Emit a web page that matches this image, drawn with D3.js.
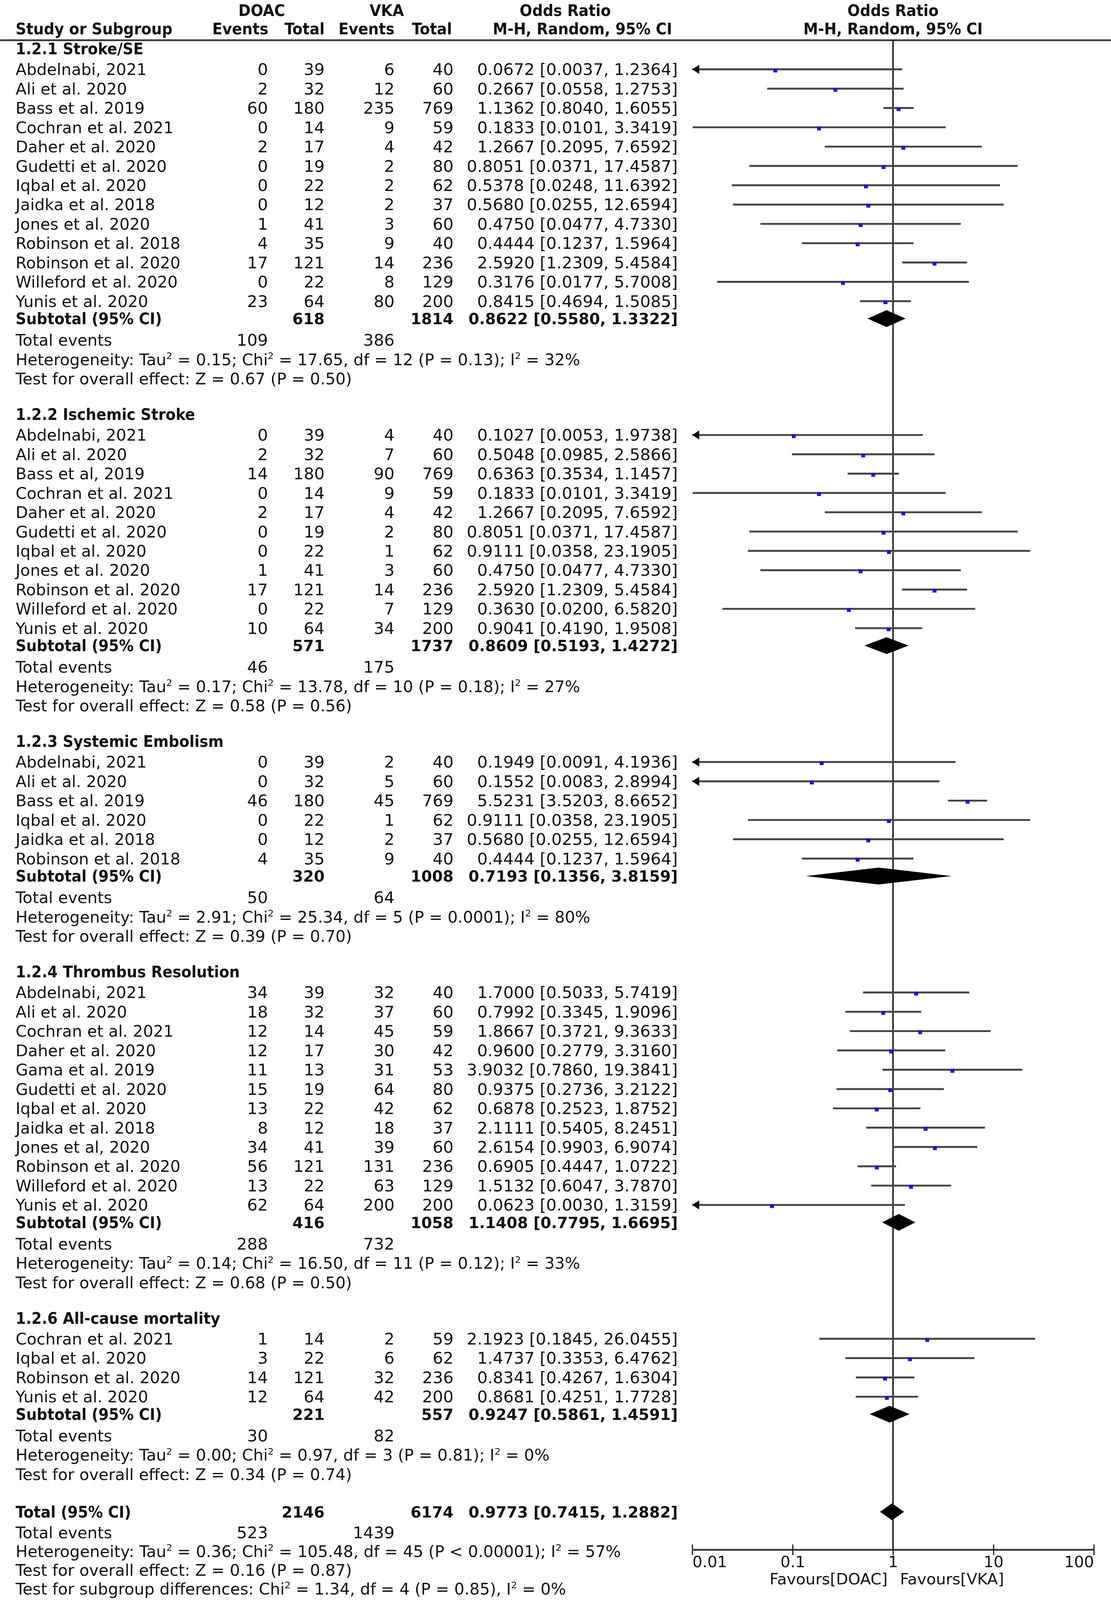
<!DOCTYPE html>
<html><head><meta charset="utf-8">
<script src="https://cdn.jsdelivr.net/npm/d3@7"></script>
<style>html,body{margin:0;padding:0;background:#fff;overflow:hidden;width:100%;height:100%}
svg{display:block;position:fixed;left:0;top:0;width:100vw;height:100vh}</style>
</head><body>
<svg id="chart" viewBox="0 0 2844 4175" preserveAspectRatio="none"></svg>
<script>
// ---------- DATA ----------
const subgroupTitles = ["1.2.1 Stroke/SE", "1.2.2 Ischemic Stroke", "1.2.3 Systemic Embolism", "1.2.4 Thrombus Resolution", "1.2.6 All-cause mortality"];

// [study, DOAC events, DOAC total, VKA events, VKA total, OR, lower, upper]
const strokeSE = [
  ["Abdelnabi, 2021", 0, 39, 6, 40, 0.0672, 0.0037, 1.2364],
  ["Ali et al. 2020", 2, 32, 12, 60, 0.2667, 0.0558, 1.2753],
  ["Bass et al. 2019", 60, 180, 235, 769, 1.1362, 0.8040, 1.6055],
  ["Cochran et al. 2021", 0, 14, 9, 59, 0.1833, 0.0101, 3.3419],
  ["Daher et al. 2020", 2, 17, 4, 42, 1.2667, 0.2095, 7.6592],
  ["Gudetti et al. 2020", 0, 19, 2, 80, 0.8051, 0.0371, 17.4587],
  ["Iqbal et al. 2020", 0, 22, 2, 62, 0.5378, 0.0248, 11.6392],
  ["Jaidka et al. 2018", 0, 12, 2, 37, 0.5680, 0.0255, 12.6594],
  ["Jones et al. 2020", 1, 41, 3, 60, 0.4750, 0.0477, 4.7330],
  ["Robinson et al. 2018", 4, 35, 9, 40, 0.4444, 0.1237, 1.5964],
  ["Robinson et al. 2020", 17, 121, 14, 236, 2.5920, 1.2309, 5.4584],
  ["Willeford et al. 2020", 0, 22, 8, 129, 0.3176, 0.0177, 5.7008],
  ["Yunis et al. 2020", 23, 64, 80, 200, 0.8415, 0.4694, 1.5085]
];
const ischemicStroke = [
  ["Abdelnabi, 2021", 0, 39, 4, 40, 0.1027, 0.0053, 1.9738],
  ["Ali et al. 2020", 2, 32, 7, 60, 0.5048, 0.0985, 2.5866],
  ["Bass et al, 2019", 14, 180, 90, 769, 0.6363, 0.3534, 1.1457],
  ["Cochran et al. 2021", 0, 14, 9, 59, 0.1833, 0.0101, 3.3419],
  ["Daher et al. 2020", 2, 17, 4, 42, 1.2667, 0.2095, 7.6592],
  ["Gudetti et al. 2020", 0, 19, 2, 80, 0.8051, 0.0371, 17.4587],
  ["Iqbal et al. 2020", 0, 22, 1, 62, 0.9111, 0.0358, 23.1905],
  ["Jones et al. 2020", 1, 41, 3, 60, 0.4750, 0.0477, 4.7330],
  ["Robinson et al. 2020", 17, 121, 14, 236, 2.5920, 1.2309, 5.4584],
  ["Willeford et al. 2020", 0, 22, 7, 129, 0.3630, 0.0200, 6.5820],
  ["Yunis et al. 2020", 10, 64, 34, 200, 0.9041, 0.4190, 1.9508]
];
const systemicEmbolism = [
  ["Abdelnabi, 2021", 0, 39, 2, 40, 0.1949, 0.0091, 4.1936],
  ["Ali et al. 2020", 0, 32, 5, 60, 0.1552, 0.0083, 2.8994],
  ["Bass et al. 2019", 46, 180, 45, 769, 5.5231, 3.5203, 8.6652],
  ["Iqbal et al. 2020", 0, 22, 1, 62, 0.9111, 0.0358, 23.1905],
  ["Jaidka et al. 2018", 0, 12, 2, 37, 0.5680, 0.0255, 12.6594],
  ["Robinson et al. 2018", 4, 35, 9, 40, 0.4444, 0.1237, 1.5964]
];
const thrombusResolution = [
  ["Abdelnabi, 2021", 34, 39, 32, 40, 1.7000, 0.5033, 5.7419],
  ["Ali et al. 2020", 18, 32, 37, 60, 0.7992, 0.3345, 1.9096],
  ["Cochran et al. 2021", 12, 14, 45, 59, 1.8667, 0.3721, 9.3633],
  ["Daher et al. 2020", 12, 17, 30, 42, 0.9600, 0.2779, 3.3160],
  ["Gama et al. 2019", 11, 13, 31, 53, 3.9032, 0.7860, 19.3841],
  ["Gudetti et al. 2020", 15, 19, 64, 80, 0.9375, 0.2736, 3.2122],
  ["Iqbal et al. 2020", 13, 22, 42, 62, 0.6878, 0.2523, 1.8752],
  ["Jaidka et al. 2018", 8, 12, 18, 37, 2.1111, 0.5405, 8.2451],
  ["Jones et al, 2020", 34, 41, 39, 60, 2.6154, 0.9903, 6.9074],
  ["Robinson et al. 2020", 56, 121, 131, 236, 0.6905, 0.4447, 1.0722],
  ["Willeford et al. 2020", 13, 22, 63, 129, 1.5132, 0.6047, 3.7870],
  ["Yunis et al. 2020", 62, 64, 200, 200, 0.0623, 0.0030, 1.3159]
];
const allCauseMortality = [
  ["Cochran et al. 2021", 1, 14, 2, 59, 2.1923, 0.1845, 26.0455],
  ["Iqbal et al. 2020", 3, 22, 6, 62, 1.4737, 0.3353, 6.4762],
  ["Robinson et al. 2020", 14, 121, 32, 236, 0.8341, 0.4267, 1.6304],
  ["Yunis et al. 2020", 12, 64, 42, 200, 0.8681, 0.4251, 1.7728]
];
const subgroupStudies = [strokeSE, ischemicStroke, systemicEmbolism, thrombusResolution, allCauseMortality];

// [DOAC total, VKA total, OR, lower, upper]
const subgroupTotals = [
  [618, 1814, 0.8622, 0.5580, 1.3322],
  [571, 1737, 0.8609, 0.5193, 1.4272],
  [320, 1008, 0.7193, 0.1356, 3.8159],
  [416, 1058, 1.1408, 0.7795, 1.6695],
  [221, 557, 0.9247, 0.5861, 1.4591]
];
const subgroupEvents = [[109, 386], [46, 175], [50, 64], [288, 732], [30, 82]];
const subgroupHeterogeneity = [
  "Heterogeneity: Tau² = 0.15; Chi² = 17.65, df = 12 (P = 0.13); I² = 32%",
  "Heterogeneity: Tau² = 0.17; Chi² = 13.78, df = 10 (P = 0.18); I² = 27%",
  "Heterogeneity: Tau² = 2.91; Chi² = 25.34, df = 5 (P = 0.0001); I² = 80%",
  "Heterogeneity: Tau² = 0.14; Chi² = 16.50, df = 11 (P = 0.12); I² = 33%",
  "Heterogeneity: Tau² = 0.00; Chi² = 0.97, df = 3 (P = 0.81); I² = 0%"
];
const subgroupEffect = [
  "Test for overall effect: Z = 0.67 (P = 0.50)",
  "Test for overall effect: Z = 0.58 (P = 0.56)",
  "Test for overall effect: Z = 0.39 (P = 0.70)",
  "Test for overall effect: Z = 0.68 (P = 0.50)",
  "Test for overall effect: Z = 0.34 (P = 0.74)"
];
const overallTotal = [2146, 6174, 0.9773, 0.7415, 1.2882];
const overallEvents = [523, 1439];
const overallNotes = [
  "Heterogeneity: Tau² = 0.36; Chi² = 105.48, df = 45 (P < 0.00001); I² = 57%",
  "Test for overall effect: Z = 0.16 (P = 0.87)",
  "Test for subgroup differences: Chi² = 1.34, df = 4 (P = 0.85), I² = 0%"
];
const axisTicks = [0.01, 0.1, 1, 10, 100];
const axisTickLabels = ["0.01", "0.1", "1", "10", "100"];
const favourLabels = ["Favours[DOAC]", "Favours[VKA]"];

// ---------- LAYOUT ----------
const svg = d3.select("#chart");
const REG = "DejaVu Sans", COND = "DejaVu Sans Condensed";
const FS = 41;
const x = d3.scaleLog().domain([0.01, 100]).range([1772, 2800]);
const col = { name: 40, e1: 686, n1: 831, e2: 1010, n2: 1161, or: 1735 };
const fmt = d3.format(".4f");
const orText = (o, l, h) => `${fmt(o)} [${fmt(l)}, ${fmt(h)}]`;

function txt(xp, yp, str, o = {}) {
  const t = svg.append("text")
    .attr("x", xp).attr("y", yp)
    .attr("text-anchor", o.anchor || "start")
    .attr("font-family", o.family || REG)
    .attr("font-size", o.size || FS)
    .attr("font-weight", o.bold ? "bold" : "normal")
    .attr("fill", "#111");
  const parts = String(str).split("²");
  parts.forEach((p, i) => {
    if (i > 0) {
      t.append("tspan").attr("font-size", 24).attr("dy", -16).text("2");
      t.append("tspan").attr("dy", 16).text(p);
    } else {
      t.append("tspan").text(p);
    }
  });
  return t;
}

// header
const hb1 = 42, hb2 = 90;
const hOpt = { family: COND, bold: true, anchor: "middle", size: 42 };
txt(670, hb1, "DOAC", hOpt);
txt(990, hb1, "VKA", hOpt);
txt(1447, hb1, "Odds Ratio", hOpt);
txt(x(1), hb1, "Odds Ratio", hOpt);
txt(col.name, hb2, "Study or Subgroup", { family: COND, bold: true, size: 42 });
txt(687, hb2, "Events", { family: COND, bold: true, anchor: "end", size: 42 });
txt(831, hb2, "Total", { family: COND, bold: true, anchor: "end", size: 42 });
txt(1010, hb2, "Events", { family: COND, bold: true, anchor: "end", size: 42 });
txt(1157, hb2, "Total", { family: COND, bold: true, anchor: "end", size: 42 });
txt(1491, hb2, "M-H, Random, 95% CI", hOpt);
txt(x(1), hb2, "M-H, Random, 95% CI", hOpt);

const headerY = 105, axisY = 4044;
svg.append("line").attr("x1", 0).attr("x2", 2844).attr("y1", headerY).attr("y2", headerY)
  .attr("stroke", "#333").attr("stroke-width", 4.5);

// vertical no-effect line
svg.append("line").attr("x1", x(1)).attr("x2", x(1)).attr("y1", headerY).attr("y2", axisY)
  .attr("stroke", "#111").attr("stroke-width", 3.5);

const ROW = 50.4, T2R = 54, R2S = 45.5, S2E = 56, T2T = 93, T2TOT = 98;
const BL = 15; // baseline offset from row centre
const numOpt = { family: REG, size: 42, anchor: "end" };
const numBold = { family: REG, size: 39.5, anchor: "end", bold: true };
const boldLbl = { family: COND, bold: true, size: 42 };

function studyRow(r, y) {
  txt(col.name, y + BL, r[0]);
  txt(col.e1, y + BL, r[1], numOpt);
  txt(col.n1, y + BL, r[2], numOpt);
  txt(col.e2, y + BL, r[3], numOpt);
  txt(col.n2, y + BL, r[4], numOpt);
  txt(col.or, y + BL, orText(r[5], r[6], r[7]), numOpt);
  const lo = Math.max(r[6], 0.01), hi = Math.min(r[7], 100);
  svg.append("line").attr("x1", x(lo)).attr("x2", x(hi)).attr("y1", y).attr("y2", y)
    .attr("stroke", "#444").attr("stroke-width", 5);
  if (r[6] < 0.01) {
    const x0 = x(0.01);
    svg.append("path").attr("d", `M${x0},${y}L${x0 + 18},${y - 12}L${x0 + 18},${y + 12}Z`).attr("fill", "#111");
  }
  if (r[7] > 100) {
    const x0 = x(100);
    svg.append("path").attr("d", `M${x0},${y}L${x0 - 18},${y - 12}L${x0 - 18},${y + 12}Z`).attr("fill", "#111");
  }
  svg.append("rect").attr("x", x(r[5]) - 5).attr("y", y + 3 - 5).attr("width", 10).attr("height", 10)
    .attr("fill", "#1f14c8");
}
function diamond(o, l, h, y) {
  svg.append("path")
    .attr("d", `M${x(l)},${y}L${x(o)},${y - 22}L${x(h)},${y}L${x(o)},${y + 22}Z`)
    .attr("fill", "#000");
}

let y = 127;
subgroupTitles.forEach((title, gi) => {
  if (gi > 0) y += T2T;
  txt(col.name, y + BL, title, boldLbl);
  y += T2R;
  subgroupStudies[gi].forEach((r, i) => {
    if (i > 0) y += ROW;
    studyRow(r, y);
  });
  y += R2S;
  const s = subgroupTotals[gi];
  txt(col.name, y + BL, "Subtotal (95% CI)", boldLbl);
  txt(col.n1, y + BL, s[0], numBold);
  txt(col.n2, y + BL, s[1], numBold);
  txt(col.or, y + BL, orText(s[2], s[3], s[4]), numBold);
  diamond(s[2], s[3], s[4], y);
  y += S2E;
  txt(col.name, y + BL, "Total events");
  txt(col.e1, y + BL, subgroupEvents[gi][0], numOpt);
  txt(col.e2, y + BL, subgroupEvents[gi][1], numOpt);
  y += ROW;
  txt(col.name, y + BL, subgroupHeterogeneity[gi]);
  y += ROW;
  txt(col.name, y + BL, subgroupEffect[gi]);
});

// overall
y += T2TOT;
txt(col.name, y + BL, "Total (95% CI)", boldLbl);
txt(col.n1, y + BL, overallTotal[0], numBold);
txt(col.n2, y + BL, overallTotal[1], numBold);
txt(col.or, y + BL, orText(overallTotal[2], overallTotal[3], overallTotal[4]), numBold);
diamond(overallTotal[2], overallTotal[3], overallTotal[4], y);
y += 54;
txt(col.name, y + BL, "Total events");
txt(col.e1, y + BL, overallEvents[0], numOpt);
txt(col.e2, y + BL, overallEvents[1], numOpt);
overallNotes.forEach(n => { y += 49; txt(col.name, y + BL, n); });

// axis
const axisG = svg.append("g").attr("transform", `translate(0,${axisY})`);
const axis = d3.axisBottom(x).tickValues(axisTicks).tickFormat((d, i) => axisTickLabels[i]).tickSize(14).tickPadding(3);
axisG.call(axis);
axisG.select(".domain").attr("d", `M${x(0.01)},0H${x(100)}`).attr("stroke", "#333").attr("stroke-width", 4.5);
axisG.selectAll(".tick line").attr("y1", -14).attr("y2", 14).attr("stroke", "#222").attr("stroke-width", 3);
axisG.selectAll(".tick text")
  .attr("font-family", REG).attr("font-size", 40).attr("fill", "#111")
  .attr("dy", "0.71em")
  .attr("text-anchor", (d, i) => i === 0 ? "start" : (i === axisTicks.length - 1 ? "end" : "middle"));
txt(x(1) - 14, 4134, favourLabels[0], { anchor: "end", size: 40 });
txt(x(1) + 18, 4134, favourLabels[1], { size: 40 });
</script>
</body></html>
